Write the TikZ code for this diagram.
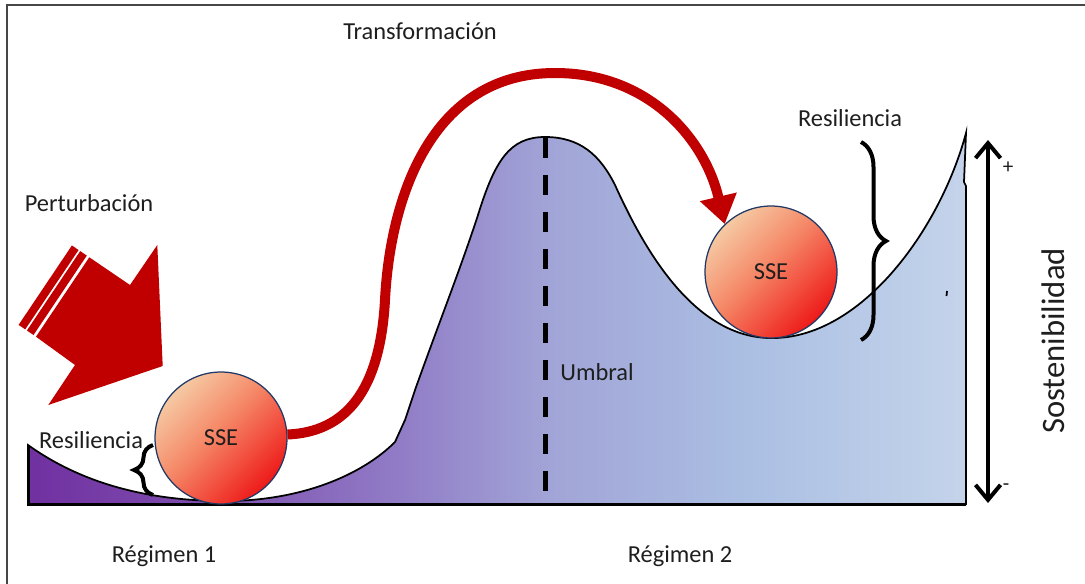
\documentclass[tikz,border=0pt]{standalone}
\usepackage{fontspec}
\setmainfont{Carlito}
\usetikzlibrary{arrows.meta,decorations.pathreplacing}

% colour ramp of the landscape, left to right (central 25bp..75bp span the path)
\pgfdeclarehorizontalshading{landscape}{100bp}{%
  rgb(0bp)=(0.44,0.19,0.63);
  rgb(25bp)=(0.44,0.19,0.63);
  rgb(34bp)=(0.49,0.30,0.68);
  rgb(45bp)=(0.57,0.49,0.78);
  rgb(52.5bp)=(0.63,0.64,0.84);
  rgb(63.5bp)=(0.67,0.75,0.89);
  rgb(75bp)=(0.77,0.83,0.92);
  rgb(100bp)=(0.77,0.83,0.92)}

% ball: red at the bottom, peach at the top (rotated later)
\pgfdeclareverticalshading{ballshade}{100bp}{%
  rgb(0bp)=(0.93,0.10,0.10);
  rgb(25bp)=(0.93,0.10,0.10);
  rgb(40bp)=(0.95,0.33,0.26);
  rgb(55bp)=(0.96,0.55,0.42);
  rgb(75bp)=(0.96,0.79,0.64);
  rgb(100bp)=(0.96,0.79,0.64)}

\definecolor{ink}{RGB}{30,30,30}
\definecolor{darkred}{RGB}{192,0,0}
\definecolor{ballrim}{RGB}{32,56,100}
\definecolor{framegray}{RGB}{70,70,70}

\tikzset{
  lbl/.style={font=\fontsize{13.9}{16}\selectfont, text=ink, inner sep=0pt},
  ball/.style={circle, draw=ballrim, line width=0.025cm, minimum size=2.64cm,
    inner sep=0pt, shading=ballshade, shading angle=45,
    font=\fontsize{13.9}{16}\selectfont, text=ink},
  bracket/.style={decorate, decoration={brace, amplitude=#1}, line width=0.08cm, black},
  pert/.style={fill=darkred},
}

\begin{document}
\begin{tikzpicture}[x=0.02cm, y=-0.02cm]
\useasboundingbox (0,0) rectangle (1085,584);

% frame
\draw[framegray, line width=0.03cm] (7,584) -- (7,5) -- (1085,5);

% landscape
\shade[shading=landscape, draw=black, line width=0.035cm]
  (28,445) .. controls (70,475) and (130,500) .. (220,501)
  .. controls (300,502) and (362,475) .. (395,442)
  -- (405,420) -- (415,390)
  .. controls (440,320) and (460,270) .. (478,215)
  .. controls (495,160) and (510,137) .. (545,137)
  .. controls (580,137) and (600,155) .. (615,185)
  .. controls (640,240) and (690,337) .. (770,338)
  .. controls (860,340) and (940,230) .. (966,133)
  -- (964,182) -- (966,186) -- (966,504) -- (28,504) -- cycle;
\draw[black, line width=0.06cm] (28,445) -- (28,504) -- (966,504);
\draw[black, line width=0.035cm] (947,291) -- (946.5,296);

% threshold
\draw[black, line width=0.1cm, dash pattern=on 0.4cm off 0.34cm] (545,138) -- (545,491);

% balls
\node[ball] (b1) at (221,438) {SSE};
\node[ball] (b2) at (771,272) {SSE};

% transformation arrow
\draw[darkred, line width=0.2cm, -{Triangle[length=0.56cm, width=0.72cm]}]
  (b1.3) .. controls (345,432) and (380,392) .. (385,300)
  .. controls (390,200) and (430,73) .. (555,73)
  .. controls (650,73) and (705,140) .. (b2.134);

% resilience brackets
\draw[bracket=0.38cm] (153,495) -- (153,445);
\draw[bracket=0.5cm] (861,142) -- (861,340);

% sustainability axis
\coordinate (axtop) at (988,140);
\coordinate (axbot) at (988,503);
\draw[black, line width=0.08cm, {Straight Barb[length=0.3cm, width=0.5cm]}-{Straight Barb[length=0.3cm, width=0.5cm]}] (axbot) -- (axtop);
\node[lbl, font=\fontsize{12}{14}\selectfont] (plus) at (1008,168) {+};
\node[lbl, font=\fontsize{12}{14}\selectfont] (minus) at (1006,487) {-};
\node[lbl, font=\fontsize{18.6}{22}\selectfont, rotate=90] (sost) at (1053,341) {Sostenibilidad};

% disturbance arrow
\fill[pert] (89.3,257.3) -- (130,285) -- (157.3,245) -- (162.7,366)
  -- (48.3,405) -- (75,365) -- (36,336.7) -- cycle;
\fill[pert] (86.8,255.6) -- (80.2,251.1) -- (26.9,330.5) -- (33.5,335.0) -- cycle;
\fill[pert] (78.6,250.0) -- (71.9,245.5) -- (18.6,324.9) -- (25.2,329.4) -- cycle;

% labels
\node[lbl] (ttrans) at (420,31) {Transformación};
\node[lbl] (tpert) at (89,203) {Perturbación};
\node[lbl] (tres1) at (91,440) {Resiliencia};
\node[lbl] (tres2) at (850,118) {Resiliencia};
\node[lbl] (tumb) at (597,372) {Umbral};
\node[lbl] (treg1) at (164,556) {Régimen 1};
\node[lbl] (treg2) at (680,556) {Régimen 2};
\end{tikzpicture}
\end{document}
